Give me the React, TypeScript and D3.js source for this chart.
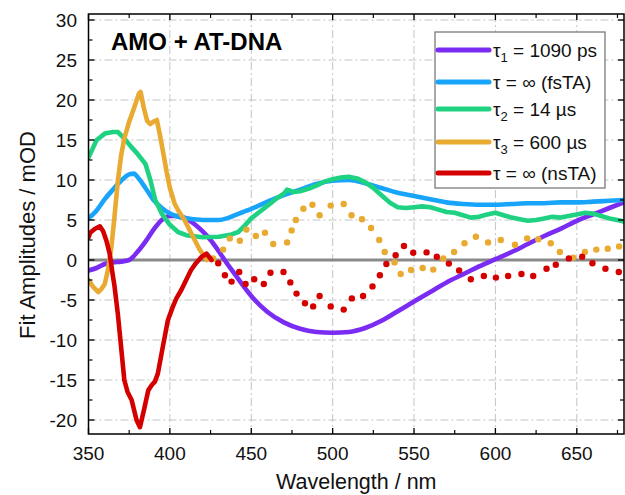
import React, { useEffect } from "react";
import * as d3 from "d3";

// ---------- data ----------
const purpleWl = [350,355,360,365,370,375,380,385,390,395,400,405,410,415,420,425,430,435,440,445,450,460,470,480,490,500,510,520,530,540,550,560,570,580,590,600,610,620,630,640,650,660,670,679];
const purpleVal = [-1.3,-1.0,-0.5,-0.3,-0.2,0.0,1.0,2.3,3.8,5.0,5.5,5.5,5.2,4.5,3.6,2.5,1.1,-0.4,-1.8,-3.2,-4.5,-6.5,-7.8,-8.6,-9.0,-9.1,-9.0,-8.5,-7.6,-6.4,-5.2,-4.0,-2.8,-1.8,-0.8,0.1,1.0,2.0,3.0,3.9,4.9,5.7,6.5,7.2];

const blueWl = [350,355,360,365,370,375,378,380,385,390,395,400,405,410,415,420,425,430,435,440,445,450,460,470,480,490,500,510,520,530,540,550,560,570,580,590,600,610,620,630,640,650,660,670,679];
const blueVal = [5.2,6.2,7.6,8.8,9.9,10.7,10.8,10.4,9.0,7.5,6.5,5.8,5.4,5.2,5.1,5.0,5.0,5.0,5.2,5.6,6.0,6.4,7.3,8.1,8.8,9.5,9.9,10.0,9.6,9.0,8.4,8.0,7.6,7.2,7.0,6.9,6.9,7.0,7.1,7.1,7.2,7.2,7.3,7.4,7.5];

const greenWl = [350,355,360,365,368,372,376,380,385,388,391,395,400,405,410,420,430,438,442,446,450,455,460,465,470,472,476,480,485,490,495,500,505,510,515,520,525,530,535,540,545,550,555,560,565,570,575,580,585,590,595,600,605,610,615,620,625,630,635,640,645,650,655,660,665,670,675,679];
const greenVal = [12.8,15.0,15.8,16.0,16.0,15.2,14.2,13.3,12.0,10.0,7.5,5.8,4.4,3.5,3.1,2.85,2.9,3.2,3.5,4.3,5.2,6.0,6.8,7.6,8.3,8.8,8.5,8.6,8.9,9.3,9.8,10.1,10.3,10.4,10.2,9.7,9.0,8.1,7.2,6.6,6.5,6.6,6.7,6.6,6.3,6.0,5.9,5.6,5.3,5.4,5.7,5.9,5.6,5.3,5.1,4.9,5.0,5.2,5.4,5.3,5.5,5.7,5.9,5.8,5.5,5.2,5.0,4.8];

const orangeWl = [350,353,356,358,360,362,364,366,368,370,372,375,378,381,382,384,386,388,390,392,394,396,398,400,403,406,409,412,415,418,420,422.6];
const orangeVal = [-2.5,-3.4,-4.0,-3.6,-3.0,-1.2,1.5,5.5,9.8,13.0,15.2,17.3,19.0,20.8,21.0,19.0,17.4,17.0,17.3,17.5,15.5,13.3,11.0,9.0,7.0,5.9,5.0,3.8,2.6,1.4,0.8,0.0];
const orangeDotWl = [426.6,432.7,436.8,443,447,452.8,458.4,463.5,472,474.8,477.4,482,487.6,492,498.8,506.8,511.6,518,523.6,528.6,532,538,541.8,548.2,555.3,561.8,568,574.6,581,588,595.5,603.3,612,619.5,626.3,634,639.6,647.8,655,662,669,676];
const orangeDotVal = [0.2,1.3,2.7,2.4,3.8,3.0,3.4,2.0,2.2,3.7,5.0,6.4,6.9,5.6,6.8,7.0,5.6,5.1,4.0,2.5,1.0,-0.3,-1.75,-1.25,-1.0,-1.2,0.2,1.0,2.1,2.9,2.2,2.5,1.9,2.7,2.6,2.1,1.0,0.3,1.0,1.3,1.4,1.7];

const redWl = [350,351,354,357,359,361,363,365,366,368,370,372,374,376.5,379.5,381.6,384,386.7,389,390.8,392.6,395.7,398.8,401.9,404,407,410,413,416,419.5,422.5,425.6];
const redVal = [2.8,3.4,3.9,4.2,3.6,2.4,0.8,-2.0,-3.3,-6.7,-10.8,-15.0,-16.5,-17.5,-20.0,-20.9,-18.8,-16.3,-15.6,-15.2,-14.2,-10.8,-7.5,-5.8,-4.8,-3.75,-2.5,-1.25,-0.4,0.4,0.8,0.0];
const redDotWl = [429.7,433.8,437.9,442.6,446.5,451.8,457.7,461.8,469.8,474,477.8,483,488,492,498.8,506.8,511.8,518.7,524.5,529,533,538.7,543.8,549.5,557.7,564,571.4,577.7,584.9,592.9,600.3,607.8,616,623.2,631.4,637.1,645.1,653.3,659.6,667.6,675.8];
const redDotVal = [-0.4,-1.9,-2.7,-1.5,-3.0,-2.4,-3.0,-1.6,-1.5,-2.8,-4.2,-5.4,-5.8,-4.5,-5.8,-6.2,-4.8,-4.5,-3.3,-1.9,-0.5,0.6,1.75,0.9,0.95,0.4,-0.45,-1.3,-2.4,-2.0,-2.2,-2.0,-1.75,-2.0,-1.1,-0.6,0.2,0.4,-0.4,-1.1,-1.5];

const xMajor = [350,400,450,500,550,600,650];
const yMajor = [-20,-15,-10,-5,0,5,10,15,20,25,30];

const legendItems = [
  { sym: "τ", sub: "1", rest: " = 1090 ps", color: "#7b2cf2" },
  { sym: "τ", sub: "", rest: " = ∞ (fsTA)", color: "#18a4fb" },
  { sym: "τ", sub: "2", rest: " = 14 µs", color: "#1fd282" },
  { sym: "τ", sub: "3", rest: " = 600 µs", color: "#e8aa30" },
  { sym: "τ", sub: "", rest: " = ∞ (nsTA)", color: "#d40000" },
];
const legendRowsY = [50, 82, 109, 142, 173];

const FONT = "'Liberation Sans', Arial, sans-serif";
const W = 625, H = 495;
const L = 88.5, R = 624, T = 14, B = 434;

export default function App() {
  useEffect(() => {
    document.body.style.margin = "0";
  }, []);

  const x = d3.scaleLinear().domain([350, 679]).range([L, R]);
  const y = d3.scaleLinear().domain([-21.75, 30.75]).range([B, T]);

  const mk = (wl: number[], v: number[]) => wl.map((w, i) => [w, v[i]] as [number, number]);
  const smooth = d3.line<[number, number]>().x(d => x(d[0])).y(d => y(d[1])).curve(d3.curveMonotoneX);
  const lin = d3.line<[number, number]>().x(d => x(d[0])).y(d => y(d[1]));

  const xMinor = d3.range(375, 679, 50);
  const yMinor = d3.range(-17.5, 30.75, 5);

  const grid = "#c4c4c4";
  const lw = 4.6;

  return (
    <div style={{ position: "absolute", left: 0, top: 0 }}>
      <svg width={W} height={H} style={{ display: "block", background: "#fff" }} fontFamily={FONT}>
        <defs>
          <clipPath id="plot">
            <rect x={L} y={T} width={R - L} height={B - T} />
          </clipPath>
        </defs>
        {/* grid */}
        {xMajor.filter(v => v > 350).map(v => (
          <line key={"gx" + v} x1={x(v)} x2={x(v)} y1={T} y2={B} stroke={grid} strokeWidth={1} strokeDasharray="8 3 2 3" />
        ))}
        {yMajor.map(v => (
          <line key={"gy" + v} x1={L} x2={R} y1={y(v)} y2={y(v)} stroke={grid} strokeWidth={1} strokeDasharray="8 3 2 3" />
        ))}
        {/* zero line */}
        <line x1={L} x2={R} y1={y(0)} y2={y(0)} stroke="#8a8a8a" strokeWidth={3} />
        <g clipPath="url(#plot)" fill="none" strokeLinejoin="round" strokeLinecap="round">
          <path d={smooth(mk(purpleWl, purpleVal)) || ""} stroke={legendItems[0].color} strokeWidth={lw} />
          <path d={smooth(mk(blueWl, blueVal)) || ""} stroke={legendItems[1].color} strokeWidth={lw} />
          <path d={lin(mk(greenWl, greenVal)) || ""} stroke={legendItems[2].color} strokeWidth={lw} />
          <path d={lin(mk(orangeWl, orangeVal)) || ""} stroke={legendItems[3].color} strokeWidth={lw} />
          {orangeDotWl.map((w, i) => (
            <circle key={"od" + i} cx={x(w)} cy={y(orangeDotVal[i])} r={3.2} fill={legendItems[3].color} stroke="none" />
          ))}
          <path d={lin(mk(redWl, redVal)) || ""} stroke={legendItems[4].color} strokeWidth={lw} />
          {redDotWl.map((w, i) => (
            <circle key={"rd" + i} cx={x(w)} cy={y(redDotVal[i])} r={3.2} fill={legendItems[4].color} stroke="none" />
          ))}
        </g>
        {/* frame */}
        <rect x={L} y={T} width={R - L} height={B - T} fill="none" stroke="#000" strokeWidth={1.5} />
        {/* ticks */}
        {xMajor.map(v => (
          <g key={"tx" + v}>
            <line x1={x(v)} x2={x(v)} y1={B} y2={B - 6} stroke="#000" strokeWidth={1.3} />
            <line x1={x(v)} x2={x(v)} y1={T} y2={T + 6} stroke="#000" strokeWidth={1.3} />
            <text x={x(v)} y={459.5} textAnchor="middle" fontSize={19} fill="#111">{v}</text>
          </g>
        ))}
        {xMinor.map(v => (
          <g key={"mx" + v}>
            <line x1={x(v)} x2={x(v)} y1={B} y2={B - 4} stroke="#000" strokeWidth={1.2} />
            <line x1={x(v)} x2={x(v)} y1={T} y2={T + 4} stroke="#000" strokeWidth={1.2} />
          </g>
        ))}
        {yMajor.map(v => (
          <g key={"ty" + v}>
            <line x1={L} x2={L + 6} y1={y(v)} y2={y(v)} stroke="#000" strokeWidth={1.3} />
            <line x1={R} x2={R - 6} y1={y(v)} y2={y(v)} stroke="#000" strokeWidth={1.3} />
            <text x={77} y={y(v) + 6.8} textAnchor="end" fontSize={19} fill="#111">{v}</text>
          </g>
        ))}
        {yMinor.map(v => (
          <g key={"my" + v}>
            <line x1={L} x2={L + 4} y1={y(v)} y2={y(v)} stroke="#000" strokeWidth={1.2} />
            <line x1={R} x2={R - 4} y1={y(v)} y2={y(v)} stroke="#000" strokeWidth={1.2} />
          </g>
        ))}
        {/* axis titles */}
        <text x={(L + R) / 2} y={489} textAnchor="middle" fontSize={21.5} fill="#111">Wavelength / nm</text>
        <text transform={`translate(35,${235}) rotate(-90)`} textAnchor="middle" fontSize={22} fill="#111">Fit Amplitudes / mOD</text>
        {/* title */}
        <text x={111} y={50} fontSize={24} fontWeight="bold" fill="#000">AMO + AT-DNA</text>
        {/* legend */}
        <rect x={435} y={32} width={170} height={156} fill="#fff" stroke="#7a7a7a" strokeWidth={1.3} />
        {legendItems.map((it, i) => {
          const ly = legendRowsY[i];
          return (
            <g key={"lg" + i}>
              <line x1={438} x2={489} y1={ly} y2={ly} stroke={it.color} strokeWidth={5} strokeLinecap="round" />
              <text x={493} y={ly + 6.8} fontSize={19} fill="#111">
                {it.sym}
                {it.sub ? <tspan fontSize={13} dy={5}>{it.sub}</tspan> : null}
                <tspan dy={it.sub ? -5 : 0}>{it.rest}</tspan>
              </text>
            </g>
          );
        })}
      </svg>
    </div>
  );
}
